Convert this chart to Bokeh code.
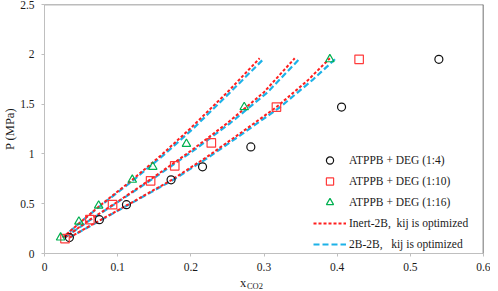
from bokeh.plotting import figure
from bokeh.models import Range1d, FixedTicker, Legend, LegendItem, Span
from bokeh.layouts import column
from bokeh.core.properties import value
from bokeh.embed import file_html
from bokeh.resources import INLINE

# ---- data ----
x_ticks = [0, 0.1, 0.2, 0.3, 0.4, 0.5, 0.6]
x_tick_labels = ["0", "0.1", "0.2", "0.3", "0.4", "0.5", "0.6"]
y_ticks = [0, 0.5, 1.0, 1.5, 2.0, 2.5]
y_tick_labels = ["0", "0.5", "1", "1.5", "2", "2.5"]
x_title_main = "x"
x_title_sub = "CO2"

c4_x = [0.034, 0.075, 0.112, 0.173, 0.216, 0.282, 0.406, 0.539]
c4_p = [0.16, 0.34, 0.49, 0.74, 0.87, 1.07, 1.47, 1.95]
c10_x = [0.028, 0.062, 0.093, 0.145, 0.178, 0.228, 0.317, 0.430]
c10_p = [0.15, 0.34, 0.49, 0.73, 0.88, 1.11, 1.47, 1.95]
c16_x = [0.022, 0.047, 0.074, 0.120, 0.148, 0.194, 0.273, 0.390]
c16_p = [0.16, 0.32, 0.48, 0.74, 0.87, 1.10, 1.47, 1.95]

r16_x = [0.025, 0.05, 0.074, 0.12, 0.16, 0.2, 0.25, 0.294]
r16_p = [0.16, 0.32, 0.47, 0.74, 0.99, 1.26, 1.62, 1.96]
r10_x = [0.028, 0.06, 0.1, 0.15, 0.2, 0.25, 0.3, 0.342]
r10_p = [0.16, 0.33, 0.52, 0.77, 1.03, 1.31, 1.62, 1.96]
r4_x = [0.034, 0.07, 0.114, 0.174, 0.22, 0.27, 0.317, 0.36, 0.39]
r4_p = [0.16, 0.31, 0.49, 0.74, 0.96, 1.22, 1.47, 1.74, 1.96]

b16_x = [0.025, 0.05, 0.075, 0.122, 0.163, 0.204, 0.254, 0.299]
b16_p = [0.16, 0.32, 0.47, 0.74, 0.99, 1.26, 1.62, 1.95]
b10_x = [0.028, 0.061, 0.101, 0.152, 0.203, 0.254, 0.305, 0.348]
b10_p = [0.16, 0.33, 0.52, 0.77, 1.03, 1.31, 1.62, 1.95]
b4_x = [0.034, 0.071, 0.115, 0.176, 0.223, 0.274, 0.322, 0.366, 0.397]
b4_p = [0.16, 0.31, 0.49, 0.74, 0.96, 1.22, 1.47, 1.74, 1.95]

FONT = "Liberation Serif"
RED = "#ff1e1e"
BLUE = "#1db2e8"
GREEN = "#00b050"
SQ = "#ff3b3b"
AXIS_GRAY = "#bfbfbf"
TXT = "#1a1a1a"

p = figure(width=490, height=275, output_backend="svg", toolbar_location=None,
           x_range=Range1d(0, 0.6), y_range=Range1d(0, 2.5),
           min_border_left=32, min_border_right=7, min_border_top=4, min_border_bottom=22)
p.outline_line_color = None
p.grid.visible = False
p.background_fill_color = "white"

for ax, ticks, labels in ((p.xaxis, x_ticks, x_tick_labels), (p.yaxis, y_ticks, y_tick_labels)):
    ax.ticker = FixedTicker(ticks=ticks)
    ax.major_label_overrides = {t: l for t, l in zip(ticks, labels)}
    ax.major_label_text_font = FONT
    ax.major_label_text_font_size = "11.5px"
    ax.major_label_text_color = TXT
    ax.axis_line_color = AXIS_GRAY
    ax.major_tick_line_color = AXIS_GRAY
    ax.major_tick_out = 3
    ax.major_tick_in = 0
    ax.minor_tick_line_color = None

p.xaxis.major_label_standoff = 6
p.yaxis.major_label_standoff = 7
p.yaxis.axis_label = "P (MPa)"
p.yaxis.axis_label_text_font = FONT
p.yaxis.axis_label_text_font_style = "normal"
p.yaxis.axis_label_text_font_size = "12.5px"
p.yaxis.axis_label_text_color = TXT
p.yaxis.axis_label_standoff = 0

p.add_layout(Span(location=2.5, dimension="width", line_color="#7a7a7a", line_width=1.5))
p.add_layout(Span(location=0.6, dimension="height", line_color="#404040", line_width=1.5))

# model lines
rb = []
for bx, bp in ((b16_x, b16_p), (b10_x, b10_p), (b4_x, b4_p)):
    rb.append(p.line(bx, bp, line_color=BLUE, line_width=2.2, line_dash="6 3"))
rr = []
for rx, rp in ((r16_x, r16_p), (r10_x, r10_p), (r4_x, r4_p)):
    rr.append(p.line(rx, rp, line_color=RED, line_width=2.0, line_dash="3 2"))

# experimental points
g4 = p.scatter(c4_x, c4_p, marker="circle", size=8, fill_color=None, line_color="#111111", line_width=1.2)
g10 = p.scatter(c10_x, c10_p, marker="square", size=8.5, fill_color=None, line_color=SQ, line_width=1.2)
g16 = p.scatter(c16_x, c16_p, marker="triangle", size=8.5, fill_color=None, line_color=GREEN, line_width=1.2)

legend = Legend(items=[
    LegendItem(label="ATPPB + DEG (1:4)", renderers=[g4]),
    LegendItem(label="ATPPB + DEG (1:10)", renderers=[g10]),
    LegendItem(label="ATPPB + DEG (1:16)", renderers=[g16]),
    LegendItem(label="Inert-2B,  kij is optimized", renderers=[rr[0]]),
    LegendItem(label="2B-2B,   kij is optimized", renderers=[rb[0]]),
], location=(269, 0))
legend.glyph_width = 33
legend.glyph_height = 18
legend.label_height = 18
legend.spacing = 3
legend.padding = 0
legend.margin = 0
legend.label_standoff = 3
legend.label_text_font = FONT
legend.label_text_font_size = "11.5px"
legend.label_text_color = TXT
legend.border_line_alpha = 0
legend.background_fill_alpha = 0
p.add_layout(legend)

# footer strip carrying the x-axis title "x" with subscript "CO2"
foot = figure(width=490, height=15, output_backend="svg", toolbar_location=None,
              x_range=p.x_range, y_range=Range1d(0, 15),
              x_axis_type=None, y_axis_type=None,
              min_border_left=32, min_border_right=7, min_border_top=0, min_border_bottom=0)
foot.outline_line_color = None
foot.grid.visible = False
foot.text(x=[0.2714], y=[7.5], text=[x_title_main], text_font=value(FONT), text_font_size="12.5px",
          text_color=TXT, text_align="center", text_baseline="alphabetic")
foot.text(x=[0.2767], y=[5], text=[x_title_sub], text_font=value(FONT), text_font_size="8.5px",
          text_color=TXT, text_align="left", text_baseline="alphabetic")

layout = column(p, foot, spacing=0)
open("out.html", "w").write(file_html(layout, INLINE))
